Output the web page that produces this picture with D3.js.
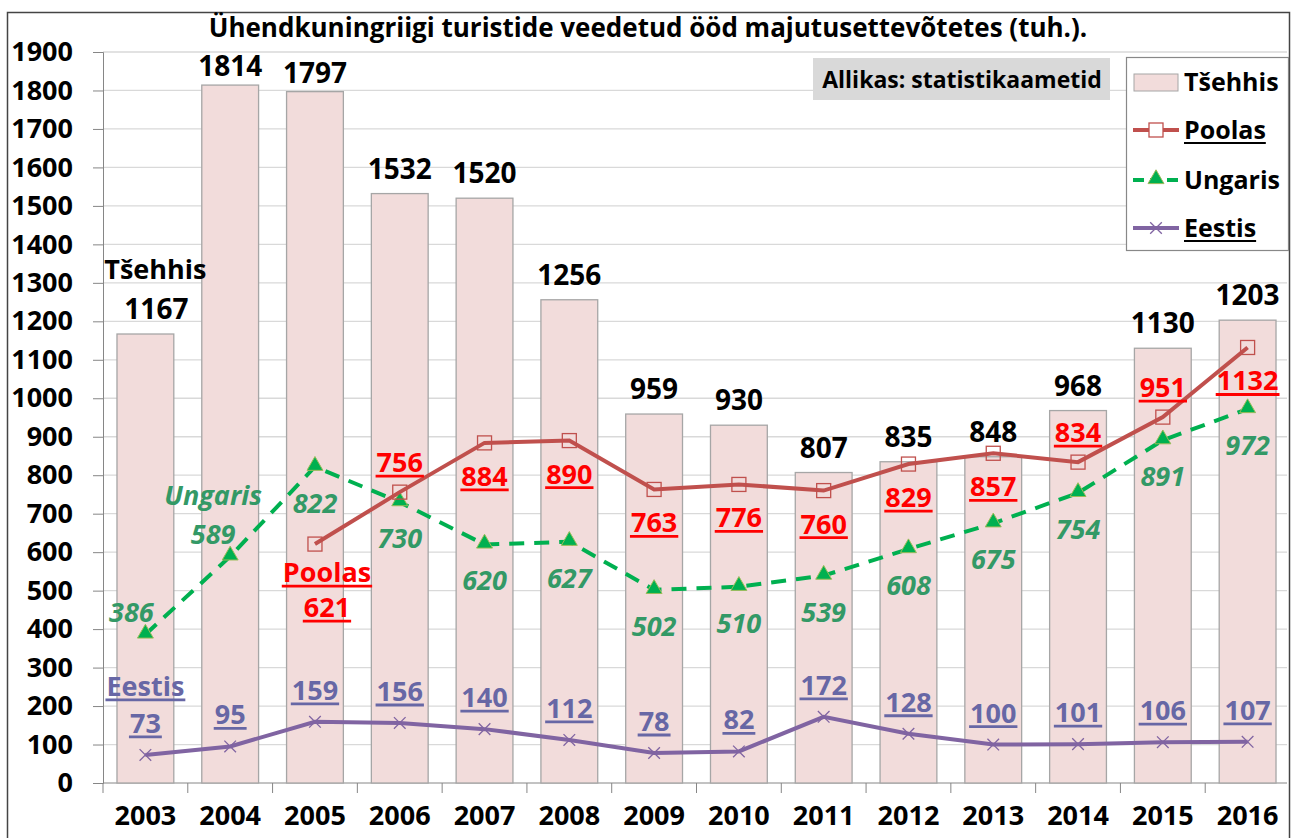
<!DOCTYPE html>
<html>
<head>
<meta charset="utf-8">
<script src="https://cdn.jsdelivr.net/npm/d3@7"></script>
<style>
  body { margin: 0; background: #fff; }
  text { font-family: "Open Sans", "Noto Sans", sans-serif; font-weight: bold; }
</style>
</head>
<body>
<div id="chart"></div>
<script>
// data
var years = ["2003", "2004", "2005", "2006", "2007", "2008", "2009", "2010", "2011", "2012", "2013", "2014", "2015", "2016"];
var tsehhis = [1167, 1814, 1797, 1532, 1520, 1256, 959, 930, 807, 835, 848, 968, 1130, 1203];
var poolas = [null, null, 621, 756, 884, 890, 763, 776, 760, 829, 857, 834, 951, 1132];
var ungaris = [386, 589, 822, 730, 620, 627, 502, 510, 539, 608, 675, 754, 891, 972];
var eestis = [73, 95, 159, 156, 140, 112, 78, 82, 172, 128, 100, 101, 106, 107];
var yTicks = [0, 100, 200, 300, 400, 500, 600, 700, 800, 900, 1000, 1100, 1200, 1300, 1400, 1500, 1600, 1700, 1800, 1900];

// label placement: "a" above, "b" below
var poolasPlace = [null, null, "b", "a", "b", "b", "b", "b", "b", "b", "b", "a", "a", "b"];
var ungarisPlace = ["a", "a", "b", "b", "b", "b", "b", "b", "b", "b", "b", "b", "b", "b"];

var svgWidth = 1294;
var svgHeight = 838;
var plot = { left: 103, right: 1290, top: 52, bottom: 783 };
var fs = 27; // label font size

var svg = d3.select("#chart")
  .append("svg")
  .attr("width", svgWidth)
  .attr("height", svgHeight);

// outer frame
svg.append("rect")
  .attr("x", 7.5).attr("y", 12.5)
  .attr("width", 1282).attr("height", 840)
  .attr("fill", "none")
  .attr("stroke", "#444")
  .attr("stroke-width", 1.5);

var x = d3.scaleBand()
  .domain(years)
  .range([plot.left, plot.right])
  .paddingInner(0.33)
  .paddingOuter(0.165);

var y = d3.scaleLinear()
  .domain([0, 1900])
  .range([plot.bottom, plot.top]);

var cx = d => x(d) + x.bandwidth() / 2;

// gridlines
svg.append("g")
  .selectAll("line")
  .data(yTicks.slice(1))
  .enter()
  .append("line")
  .attr("x1", plot.left).attr("x2", plot.right - 3)
  .attr("y1", d => y(d)).attr("y2", d => y(d))
  .attr("stroke", "#d9d9d9")
  .attr("stroke-width", 1.3);

// y axis
var leftAxis = d3.axisLeft(y).tickValues(yTicks).tickFormat(d3.format("d")).tickSize(10);
var yAxis = svg.append("g")
  .attr("transform", `translate(${plot.left}, 0)`)
  .call(leftAxis);
yAxis.select(".domain").attr("stroke", "#868686");
yAxis.selectAll(".tick line").attr("stroke", "#868686");
yAxis.selectAll(".tick text")
  .attr("font-size", fs)
  .attr("font-family", "'Open Sans', sans-serif")
  .attr("font-weight", "bold")
  .attr("fill", "#000")
  .attr("x", -30);

// x axis line and tick marks between categories
svg.append("line")
  .attr("x1", plot.left).attr("x2", plot.right - 3)
  .attr("y1", plot.bottom).attr("y2", plot.bottom)
  .attr("stroke", "#868686");
svg.append("g")
  .selectAll("line")
  .data(d3.range(years.length))
  .enter()
  .append("line")
  .attr("x1", i => plot.left + i * x.step())
  .attr("x2", i => plot.left + i * x.step())
  .attr("y1", plot.bottom).attr("y2", plot.bottom + 10)
  .attr("stroke", "#868686");
svg.append("g")
  .selectAll("text")
  .data(years)
  .enter()
  .append("text")
  .attr("x", d => cx(d))
  .attr("y", 825)
  .attr("text-anchor", "middle")
  .attr("font-size", fs)
  .text(d => d);

// bars (Tšehhis)
svg.append("g")
  .selectAll("rect")
  .data(tsehhis)
  .enter()
  .append("rect")
  .attr("x", (d, i) => x(years[i]))
  .attr("y", d => y(d))
  .attr("width", x.bandwidth())
  .attr("height", d => plot.bottom - y(d))
  .attr("fill", "#f2dcdb")
  .attr("stroke", "#a6a6a6")
  .attr("stroke-width", 1.3);

// bar labels; the two tallest are pushed closer to the bar, as in the original
svg.append("g")
  .selectAll("text")
  .data(tsehhis)
  .enter()
  .append("text")
  .attr("x", (d, i) => cx(years[i]) + (i === 0 ? 11 : 0))
  .attr("y", d => y(d) - 15 < 80 ? y(d) - 9 : y(d) - 15)
  .attr("text-anchor", "middle")
  .attr("font-size", 28)
  .text(d => d);
svg.append("text")
  .attr("x", cx(years[0]) + 10)
  .attr("y", y(tsehhis[0]) - 55)
  .attr("text-anchor", "middle")
  .attr("font-size", 27)
  .text("Tšehhis");

// helper: text with a drawn underline
function underlined(g, tx, ty, str, color, size) {
  var t = g.append("text")
    .attr("x", tx).attr("y", ty)
    .attr("text-anchor", "middle")
    .attr("font-size", size)
    .attr("fill", color)
    .text(str);
  var w = t.node().getComputedTextLength();
  g.append("line")
    .attr("x1", tx - w / 2 - 1).attr("x2", tx + w / 2 + 1)
    .attr("y1", ty + 4).attr("y2", ty + 4)
    .attr("stroke", color)
    .attr("stroke-width", 2.8);
  return t;
}

// Eestis line
var eLine = d3.line()
  .x((d, i) => cx(years[i]))
  .y(d => y(d));
svg.append("path")
  .datum(eestis)
  .attr("d", eLine)
  .attr("fill", "none")
  .attr("stroke", "#8064a2")
  .attr("stroke-width", 4);
svg.append("g")
  .selectAll("path")
  .data(eestis)
  .enter()
  .append("path")
  .attr("d", d3.symbol().type(d3.symbolX).size(90))
  .attr("transform", (d, i) => `translate(${cx(years[i])}, ${y(d)})`)
  .attr("fill", "none")
  .attr("stroke", "#8064a2")
  .attr("stroke-width", 1.3);

// Ungaris line
var uLine = d3.line()
  .x((d, i) => cx(years[i]))
  .y(d => y(d));
svg.append("path")
  .datum(ungaris)
  .attr("d", uLine)
  .attr("fill", "none")
  .attr("stroke", "#00b050")
  .attr("stroke-width", 4)
  .attr("stroke-dasharray", "15,10");
svg.append("g")
  .selectAll("path")
  .data(ungaris)
  .enter()
  .append("path")
  .attr("d", d3.symbol().type(d3.symbolTriangle).size(110))
  .attr("transform", (d, i) => `translate(${cx(years[i])}, ${y(d) - 1})`)
  .attr("fill", "#00b050")
  .attr("stroke", "#9bbb59")
  .attr("stroke-width", 1);

// Poolas line
var pLine = d3.line()
  .defined(d => d !== null)
  .x((d, i) => cx(years[i]))
  .y(d => y(d));
svg.append("path")
  .datum(poolas)
  .attr("d", pLine)
  .attr("fill", "none")
  .attr("stroke", "#c0504d")
  .attr("stroke-width", 4);
svg.append("g")
  .selectAll("rect")
  .data(poolas.map((d, i) => ({ v: d, yr: years[i] })).filter(d => d.v !== null))
  .enter()
  .append("rect")
  .attr("x", d => cx(d.yr) - 7)
  .attr("y", d => y(d.v) - 7)
  .attr("width", 14).attr("height", 14)
  .attr("fill", "none")
  .attr("stroke", "#c0504d")
  .attr("stroke-width", 1.3);

// Eestis labels
var eLab = svg.append("g");
eestis.forEach(function(d, i) {
  underlined(eLab, cx(years[i]), y(d) - 22, d, "#6767a5", fs);
});
underlined(eLab, cx(years[0]), y(eestis[0]) - 59, "Eestis", "#6767a5", fs);

// Ungaris labels
var uLab = svg.append("g");
ungaris.forEach(function(d, i) {
  var px = cx(years[i]), py = y(d);
  var dx = i === 0 ? -14 : (i === 1 ? -17 : 0);
  var ty = ungarisPlace[i] === "a" ? py - 12 : py + 46;
  uLab.append("text")
    .attr("x", px + dx).attr("y", ty)
    .attr("text-anchor", "middle")
    .attr("font-size", fs)
    .attr("font-style", "italic")
    .attr("fill", "#339966")
    .text(d);
});
uLab.append("text")
  .attr("x", cx(years[1]) - 17).attr("y", y(ungaris[1]) - 51)
  .attr("text-anchor", "middle")
  .attr("font-size", fs)
  .attr("font-style", "italic")
  .attr("fill", "#339966")
  .text("Ungaris");

// Poolas labels
var pLab = svg.append("g");
poolas.forEach(function(d, i) {
  if (d === null) return;
  var px = cx(years[i]), py = y(d);
  if (i === 2) {
    underlined(pLab, px + 12, py + 38, "Poolas", "#ff0000", fs);
    underlined(pLab, px + 12, py + 73, d, "#ff0000", fs);
    return;
  }
  var ty = poolasPlace[i] === "a" ? py - 20 : py + 43;
  underlined(pLab, px, ty, d, "#ff0000", fs);
});

// title
svg.append("text")
  .attr("x", 648).attr("y", 37)
  .attr("text-anchor", "middle")
  .attr("font-size", 26)
  .text("Ühendkuningriigi turistide veedetud ööd majutusettevõtetes (tuh.).");

// source box
svg.append("rect")
  .attr("x", 813).attr("y", 58)
  .attr("width", 297).attr("height", 42)
  .attr("fill", "#d9d9d9");
svg.append("text")
  .attr("x", 962).attr("y", 88)
  .attr("text-anchor", "middle")
  .attr("font-size", 23)
  .text("Allikas: statistikaametid");

// legend
var legend = svg.append("g");
legend.append("rect")
  .attr("x", 1126.5).attr("y", 57.5)
  .attr("width", 162).attr("height", 193)
  .attr("fill", "#fff")
  .attr("stroke", "#888")
  .attr("stroke-width", 1.2);
var legendItems = ["Tšehhis", "Poolas", "Ungaris", "Eestis"];
var legendY = [82, 130, 180, 228];
legend.append("rect")
  .attr("x", 1134).attr("y", legendY[0] - 8)
  .attr("width", 44).attr("height", 17)
  .attr("fill", "#f2dcdb").attr("stroke", "#a6a6a6");
legend.append("line")
  .attr("x1", 1133).attr("x2", 1179)
  .attr("y1", legendY[1]).attr("y2", legendY[1])
  .attr("stroke", "#c0504d").attr("stroke-width", 4);
legend.append("rect")
  .attr("x", 1149).attr("y", legendY[1] - 7)
  .attr("width", 14).attr("height", 14)
  .attr("fill", "#fff").attr("stroke", "#c0504d").attr("stroke-width", 1.3);
legend.append("line")
  .attr("x1", 1133).attr("x2", 1179)
  .attr("y1", legendY[2]).attr("y2", legendY[2])
  .attr("stroke", "#00b050").attr("stroke-width", 4)
  .attr("stroke-dasharray", "11,6");
legend.append("path")
  .attr("d", d3.symbol().type(d3.symbolTriangle).size(110))
  .attr("transform", `translate(1156, ${legendY[2] - 1})`)
  .attr("fill", "#00b050").attr("stroke", "#9bbb59");
legend.append("line")
  .attr("x1", 1133).attr("x2", 1179)
  .attr("y1", legendY[3]).attr("y2", legendY[3])
  .attr("stroke", "#8064a2").attr("stroke-width", 4);
legend.append("path")
  .attr("d", d3.symbol().type(d3.symbolX).size(90))
  .attr("transform", `translate(1156, ${legendY[3]})`)
  .attr("fill", "none").attr("stroke", "#8064a2").attr("stroke-width", 1.3);
legendItems.forEach(function(name, i) {
  var t = legend.append("text")
    .attr("x", 1184).attr("y", legendY[i] + 9)
    .attr("font-size", 25)
    .text(name);
  if (i === 1 || i === 3) {
    var w = t.node().getComputedTextLength();
    legend.append("line")
      .attr("x1", 1184).attr("x2", 1184 + w)
      .attr("y1", legendY[i] + 13).attr("y2", legendY[i] + 13)
      .attr("stroke", "#000").attr("stroke-width", 2.2);
  }
});
</script>
</body>
</html>
